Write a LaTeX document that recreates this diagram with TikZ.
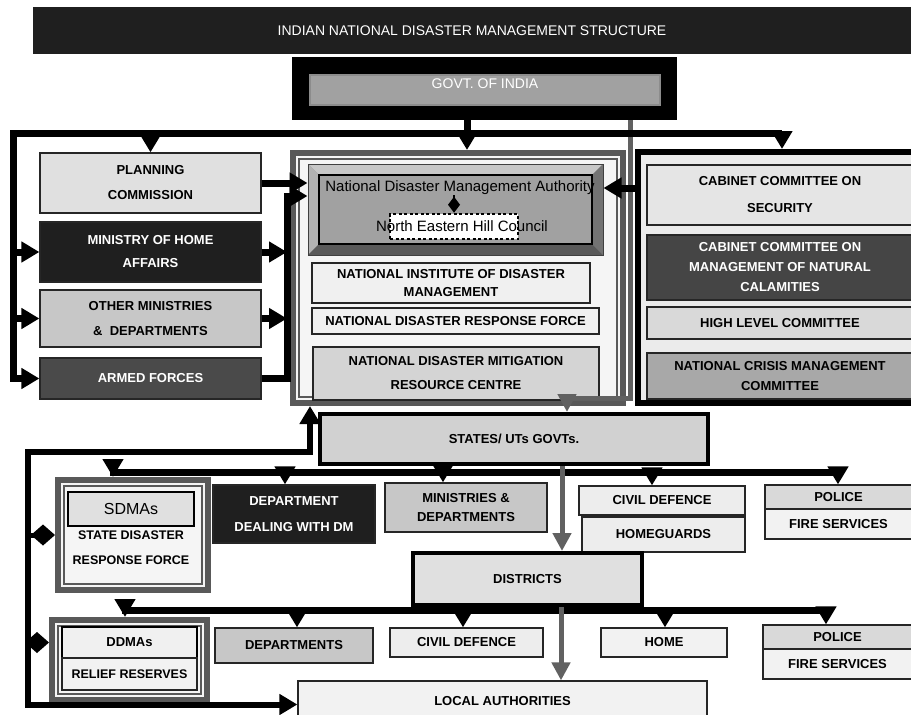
\documentclass[tikz,border=0pt]{standalone}
\usepackage{fontspec}
\setmainfont{Liberation Sans}
\usepackage{xcolor}
\usetikzlibrary{arrows.meta,positioning}

\begin{document}
\begin{tikzpicture}[
      x=1pt, y=-1pt,
      >={Triangle[width=20pt,length=18pt]},
      sz/.style 2 args={minimum width=#1pt, minimum height=#2pt},
      box/.style={draw=black!85, line width=1.2pt, align=center, inner sep=0pt,
        font=\fontsize{13}{17}\selectfont\bfseries},
      dark/.style={box, fill=black!88, text=white},
      frame/.style={draw=black!65, line width=6pt, inner sep=0pt,
        path picture={\draw[black!65, line width=1.2pt]
          ([shift={(6pt,-6pt)}]path picture bounding box.north west) rectangle
          ([shift={(-6pt,6pt)}]path picture bounding box.south east);}},
      bevel/.style={draw=black!75, line width=1pt, fill=black!50,
        path picture={
          \fill[black!22] (path picture bounding box.north west)
            -- (path picture bounding box.north east)
            -- ([shift={(-11pt,-11pt)}]path picture bounding box.north east)
            -- ([shift={(11pt,-11pt)}]path picture bounding box.north west) -- cycle;
          \fill[black!30] (path picture bounding box.north west)
            -- ([shift={(11pt,-11pt)}]path picture bounding box.north west)
            -- ([shift={(11pt,11pt)}]path picture bounding box.south west)
            -- (path picture bounding box.south west) -- cycle;
          \fill[black!65] (path picture bounding box.south west)
            -- ([shift={(11pt,11pt)}]path picture bounding box.south west)
            -- ([shift={(-11pt,11pt)}]path picture bounding box.south east)
            -- (path picture bounding box.south east) -- cycle;
          \fill[black!55] (path picture bounding box.north east)
            -- ([shift={(-11pt,-11pt)}]path picture bounding box.north east)
            -- ([shift={(-11pt,11pt)}]path picture bounding box.south east)
            -- (path picture bounding box.south east) -- cycle;
          \draw[black, line width=1.5pt, fill=black!37]
            ([shift={(11pt,-11pt)}]path picture bounding box.north west) rectangle
            ([shift={(-11pt,11pt)}]path picture bounding box.south east);}},
      bus/.style={line width=7pt, draw=black, line cap=rect},
      flow/.style={line width=7pt, draw=black, ->},
      feedback/.style={line width=6pt, draw=black, <->},
      grayflow/.style={line width=5pt, draw=black!62, -{Triangle[width=18pt,length=18pt]}},
      tie/.style={line width=5pt, draw=black, -{Diamond[width=21pt,length=24pt]}}]
    \useasboundingbox (0,0) rectangle (911,715);
    \clip (0,0) rectangle (911,715);

    % national level
    \node[dark, draw=none, sz={878}{47}, font=\fontsize{14}{16}\selectfont] (title) at (472,30.5) {INDIAN NATIONAL DISASTER MANAGEMENT STRUCTURE};
    \node[fill=black, sz={385}{63}] (govt) at (484.5,88.5) {};
    \node[box, fill=black!37, draw=black!45, text=white, sz={350}{30}, font=\fontsize{14}{16}\selectfont,
      text height=10pt, text depth=14pt] (govtin) at (485,90) {GOVT. OF INDIA};

    \node[box, fill=black!12, sz={221}{60}] (plan) at (150.5,183) {PLANNING\\[8pt]COMMISSION};
    \node[dark, sz={221}{60}] (mha) at (150.5,252) {MINISTRY OF HOME\\[6pt]AFFAIRS};
    \node[box, fill=black!22, sz={221}{57}] (othmin) at (150.5,318.5) {OTHER MINISTRIES\\[8pt]\&\ \ DEPARTMENTS};
    \node[box, fill=black!71, text=white, sz={221}{41}] (armed) at (150.5,378.5) {ARMED FORCES};

    \node[frame, fill=black!4, sz={330}{250}] (cframe) at (458,278) {};
    \node[bevel, sz={295}{91}] (ndma) at (455.5,209.5) {};
    \node[inner sep=0pt, font=\fontsize{15}{17}\selectfont] (ndmatext) at (460,188) {National Disaster Management Authority};
    \node[draw=black, line width=2.5pt, dash pattern=on 3pt off 2.5pt, fill=white, inner sep=0pt,
      sz={128}{25}, font=\fontsize{15}{17}\selectfont] (nehc) at (454,226.5) {\makebox[0pt]{\kern16pt North Eastern Hill Council}};
    \draw[line width=1.5pt, -{Diamond[width=12pt,length=16pt]}] (ndmatext.south -| nehc.north) -- (nehc.north);
    \node[box, fill=black!6, sz={278}{40}] (nidm) at (451,283) {NATIONAL INSTITUTE OF DISASTER\\[1pt]MANAGEMENT};
    \node[box, fill=black!6, sz={287}{26}] (ndrf) at (455.5,321) {NATIONAL DISASTER RESPONSE FORCE};
    \node[box, fill=black!17, sz={286}{53}] (ndmrc) at (456,373.5) {NATIONAL DISASTER MITIGATION\\[7pt]RESOURCE CENTRE};

    \node[draw=black, line width=6pt, fill=black!8, sz={278}{251}] (rframe) at (777,277.5) {};
    \node[box, fill=black!10, sz={266}{60}] (ccs) at (780,195) {CABINET COMMITTEE ON\\[10pt]SECURITY};
    \node[box, fill=black!73, text=white, sz={266}{65}] (ccmnc) at (780,267.5) {CABINET COMMITTEE ON\\[3pt]MANAGEMENT OF NATURAL\\[3pt]CALAMITIES};
    \node[box, fill=black!15, sz={266}{32}] (hlc) at (780,323) {HIGH LEVEL COMMITTEE};
    \node[box, fill=black!34, sz={266}{46}] (ncmc) at (780,376) {NATIONAL CRISIS MANAGEMENT\\[3pt]COMMITTEE};

    % state level
    \node[box, fill=black!18, draw=black, line width=4pt, sz={388}{50}] (states) at (514,439) {STATES/ UTs GOVTs.};
    \node[frame, fill=black!4, sz={150}{110}] (sdmaf) at (133,535) {};
    \node[box, fill=black!12, draw=black, line width=1.5pt, sz={126}{34},
      font=\fontsize{16}{18}\selectfont] (sdma) at (131,509) {SDMAs};
    \node[inner sep=0pt, align=center, font=\fontsize{12.5}{17}\selectfont\bfseries] (sdrf) at (131,548) {STATE DISASTER\\[8pt]RESPONSE FORCE};
    \node[dark, sz={162}{58}] (dept) at (294,514) {DEPARTMENT\\[9pt]DEALING WITH DM};
    \node[box, fill=black!22, sz={162}{49}] (ministries) at (466,507.5) {MINISTRIES \&\\[2pt]DEPARTMENTS};
    \node[box, fill=black!7, sz={166}{29}] (civdef) at (662,500.5) {CIVIL DEFENCE};
    \node[box, fill=black!7, sz={163}{35}] (homeg) at (663.5,534.5) {HOMEGUARDS};
    \node[box, fill=black!15, sz={147}{24}] (police) at (838.5,497) {POLICE};
    \node[box, fill=black!5, sz={147}{30}] (fire) at (838.5,524) {FIRE SERVICES};

    % district level
    \node[box, fill=black!12, draw=black, line width=4pt, sz={229}{52}] (districts) at (527.5,579) {DISTRICTS};
    \node[frame, fill=black!4, sz={155}{80}] (ddmaf) at (129.5,660) {};
    \node[box, fill=black!6, draw=black, line width=1.5pt, sz={135}{31}] (ddma) at (129.5,642.5) {DDMAs};
    \node[box, fill=black!5, sz={135}{32}, font=\fontsize{12.5}{17}\selectfont\bfseries] (relief) at (129.5,674) {RELIEF RESERVES};
    \node[box, fill=black!22, sz={158}{35}] (depts) at (294,645.5) {DEPARTMENTS};
    \node[box, fill=black!7, sz={153}{29}] (civdef2) at (466.5,642.5) {CIVIL DEFENCE};
    \node[box, fill=black!5, sz={126}{29}] (home) at (664,642.5) {HOME};
    \node[box, fill=black!15, sz={149}{24}] (police2) at (837.5,637) {POLICE};
    \node[box, fill=black!5, sz={149}{30}] (fire2) at (837.5,664) {FIRE SERVICES};
    \node[box, fill=black!5, sz={409}{47}, text height=10pt, text depth=8pt] (local) at (502.5,704.5) {LOCAL AUTHORITIES};

    % grey line from govt down to the states
    \coordinate (gbend) at (630,398);
    \coordinate (gdrop) at (567,398);
    \draw[grayflow] (govt.south -| gbend) -- (gbend) -- (gdrop) -- (gdrop |- states.north);

    % national links
    \coordinate (ltop) at (13,133);
    \coordinate (mtop) at (467,133);
    \coordinate (rtop) at (782,133);
    \coordinate (lmerge) at (287,196);
    \draw[bus] (govt.south -| mtop) -- (mtop);
    \draw[flow] (rtop) -- (ltop) |- (armed.west);
    \draw[flow] (ltop -| plan.north) -- (plan.north);
    \draw[flow] (mtop) -- (mtop |- cframe.north);
    \draw[flow] (rtop) -- (rtop |- rframe.north);
    \draw[flow] (ltop |- mha.west) -- (mha.west);
    \draw[flow] (ltop |- othmin.west) -- (othmin.west);
    \draw[flow] (plan.east) -- (plan.east -| ndma.west);
    \draw[flow] (armed.east) -| (lmerge) -- (lmerge -| ndma.west);
    \draw[flow] (mha.east) -- (mha.east -| lmerge);
    \draw[flow] (othmin.east) -- (othmin.east -| lmerge);
    \draw[flow] (rframe.west |- ndmatext) -- (ndma.east |- ndmatext);

    % state links
    \coordinate (sb1) at (113,472);
    \coordinate (sb2) at (285,472);
    \coordinate (sb3) at (443,472);
    \coordinate (sb4) at (652,472);
    \coordinate (sb5) at (838,472);
    \draw[bus] (sb1) -- (sb5);
    \draw[flow] (sb1) -- (sb1 |- sdmaf.north);
    \draw[flow] (sb2) -- (sb2 |- dept.north);
    \draw[flow] (sb3) -- (sb3 |- ministries.north);
    \draw[flow] (sb4) -- (sb4 |- civdef.north);
    \draw[flow] (sb5) -- (sb5 |- police.north);
    \coordinate (gmid) at (562,500);
    \draw[grayflow] (gmid |- states.south) -- (gmid |- districts.north);

    % district links
    \coordinate (db1) at (125,610);
    \coordinate (db2) at (297,610);
    \coordinate (db3) at (463,610);
    \coordinate (db4) at (665,610);
    \coordinate (db5) at (826,610);
    \draw[bus] (db1) -- (db5);
    \draw[flow] (db1) -- (db1 |- ddmaf.north);
    \draw[flow] (db2) -- (db2 |- depts.north);
    \draw[flow] (db3) -- (db3 |- civdef2.north);
    \draw[flow] (db4) -- (db4 |- home.north);
    \draw[flow] (db5) -- (db5 |- police2.north);
    \coordinate (gbot) at (561,650);
    \draw[grayflow] (gbot |- districts.south) -- (gbot |- local.north);

    % feedback loop on the left
    \coordinate (lup) at (310,452);
    \coordinate (lcorner) at (28,452);
    \draw[feedback] (local.west) -| (lcorner) -- (lup) -- (lup |- cframe.south);
    \draw[tie] (lcorner |- sdmaf.west) -- (sdmaf.west);
    \draw[tie] (lcorner |- ddma.west) -- (ddma.west -| ddmaf.west);
  \end{tikzpicture}
\end{document}
